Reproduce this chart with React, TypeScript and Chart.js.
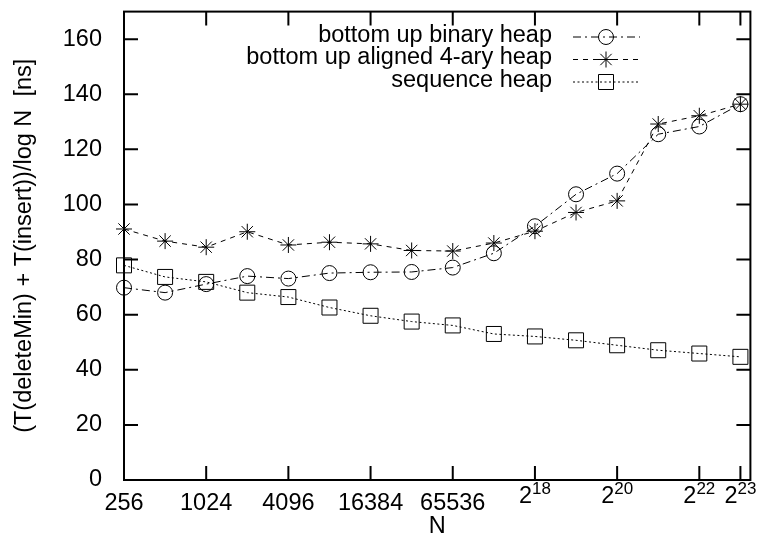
import React, { useEffect, useRef } from 'react';
import { Chart, registerables } from 'chart.js';

Chart.register(...registerables);

// ---- data ----
const nValues = [256, 512, 1024, 2048, 4096, 8192, 16384, 32768, 65536, 131072, 262144, 524288, 1048576, 2097152, 4194304, 8388608];
const binaryHeap = [69.8, 68.0, 71.1, 74.0, 73.1, 75.1, 75.4, 75.5, 77.1, 82.3, 92.1, 103.7, 111.2, 125.5, 128.3, 136.4];
const aligned4aryHeap = [91.1, 86.7, 84.5, 90.1, 85.3, 86.3, 85.7, 83.3, 83.1, 86.0, 90.3, 97.1, 101.3, 129.2, 132.2, 136.4];
const sequenceHeap = [77.9, 73.7, 71.9, 68.0, 66.4, 62.6, 59.6, 57.5, 56.1, 53.0, 52.1, 50.7, 48.9, 47.1, 45.9, 44.7];

const seriesNames = ['bottom up binary heap', 'bottom up aligned 4-ary heap', 'sequence heap'];

const xTickValues = [256, 1024, 4096, 16384, 65536, 262144, 1048576, 4194304, 8388608];
const xTickLabels = ['256', '1024', '4096', '16384', '65536', '2^18', '2^20', '2^22', '2^23'];
const yTickValues = [0, 20, 40, 60, 80, 100, 120, 140, 160];

const X_MIN = 256;
const X_MAX = 9928000;
const Y_MIN = 0;
const Y_MAX = 170;

const FONT_FAMILY = '"Liberation Sans", Arial, Helvetica, sans-serif';
const FONT_SIZE = 23.5;
const SUP_SIZE = 17;

const dashes = [[8, 4, 2, 4], [5, 5], [2, 2.5]];
const pointStyles = ['circle', 'star', 'rect'] as const;
const pointRadii = [7.5, 8, 10.6];

function drawMarker(ctx: CanvasRenderingContext2D, style: string, x: number, y: number) {
  ctx.beginPath();
  if (style === 'circle') {
    ctx.arc(x, y, 7.5, 0, Math.PI * 2);
  } else if (style === 'rect') {
    const s = 7.5;
    ctx.rect(x - s, y - s, 2 * s, 2 * s);
  } else {
    const r = 8;
    const d = r * Math.SQRT1_2;
    ctx.moveTo(x - r, y); ctx.lineTo(x + r, y);
    ctx.moveTo(x, y - r); ctx.lineTo(x, y + r);
    ctx.moveTo(x - d, y - d); ctx.lineTo(x + d, y + d);
    ctx.moveTo(x - d, y + d); ctx.lineTo(x + d, y - d);
  }
  ctx.stroke();
}

const gnuplotPlugin = {
  id: 'gnuplotFrame',
  afterDraw(chart: any) {
    const { ctx, chartArea: a, scales } = chart;
    const x = scales.x;
    const y = scales.y;
    ctx.save();
    ctx.setLineDash([]);
    ctx.strokeStyle = '#000';
    ctx.lineWidth = 2;
    ctx.strokeRect(a.left, a.top, a.right - a.left, a.bottom - a.top);
    const TL = 14;
    ctx.beginPath();
    for (const v of yTickValues) {
      const py = y.getPixelForValue(v);
      ctx.moveTo(a.left, py); ctx.lineTo(a.left + TL, py);
      ctx.moveTo(a.right, py); ctx.lineTo(a.right - TL, py);
    }
    for (const v of xTickValues) {
      const px = x.getPixelForValue(v);
      ctx.moveTo(px, a.bottom); ctx.lineTo(px, a.bottom - TL);
      ctx.moveTo(px, a.top); ctx.lineTo(px, a.top + TL);
    }
    ctx.stroke();

    // x tick labels (with superscripts)
    ctx.fillStyle = '#000';
    ctx.textBaseline = 'middle';
    xTickValues.forEach((v, i) => {
      const px = x.getPixelForValue(v);
      const label = xTickLabels[i];
      if (label.includes('^')) {
        const [base, sup] = label.split('^');
        ctx.font = `${FONT_SIZE}px ${FONT_FAMILY}`;
        const wb = ctx.measureText(base).width;
        ctx.font = `${SUP_SIZE}px ${FONT_FAMILY}`;
        const ws = ctx.measureText(sup).width;
        const start = px - (wb + ws) / 2;
        ctx.textAlign = 'left';
        ctx.font = `${FONT_SIZE}px ${FONT_FAMILY}`;
        ctx.fillText(base, start, a.bottom + 16.5);
        ctx.font = `${SUP_SIZE}px ${FONT_FAMILY}`;
        ctx.fillText(sup, start + wb, a.bottom + 9);
      } else {
        ctx.textAlign = 'center';
        ctx.font = `${FONT_SIZE}px ${FONT_FAMILY}`;
        ctx.fillText(label, px, a.bottom + 23.5);
      }
    });

    // legend
    const rows = [37, 59.5, 82];
    const textRight = 552;
    const lineStart = 573;
    const lineEnd = 640;
    const markerX = 606;
    ctx.font = `${FONT_SIZE}px ${FONT_FAMILY}`;
    ctx.textAlign = 'right';
    ctx.textBaseline = 'middle';
    seriesNames.forEach((name, i) => {
      const ry = rows[i];
      ctx.fillText(name, textRight, ry - 1.5);
      ctx.lineWidth = 1;
      ctx.setLineDash(dashes[i]);
      ctx.beginPath();
      ctx.moveTo(lineStart, ry);
      ctx.lineTo(lineEnd, ry);
      ctx.stroke();
      ctx.setLineDash([]);
      drawMarker(ctx, pointStyles[i], markerX, ry);
    });
    ctx.restore();
  },
};

export default function App() {
  const ref = useRef<HTMLCanvasElement>(null);

  useEffect(() => {
    document.body.style.margin = '0';
    const canvas = ref.current!;
    const seriesValues = [binaryHeap, aligned4aryHeap, sequenceHeap];
    const datasets = seriesValues.map((vals, i) => ({
      label: seriesNames[i],
      data: nValues.map((n, j) => ({ x: n, y: vals[j] })),
      borderColor: '#000',
      borderWidth: 1,
      borderDash: dashes[i],
      pointStyle: pointStyles[i],
      pointRadius: pointRadii[i],
      pointBorderWidth: 1,
      pointBorderColor: '#000',
      pointBackgroundColor: 'rgba(0,0,0,0)',
      backgroundColor: 'rgba(0,0,0,0)',
      fill: false,
      tension: 0,
      clip: false as any,
    }));

    const chart = new Chart(canvas, {
      type: 'line',
      data: { datasets },
      plugins: [gnuplotPlugin],
      options: {
        animation: false,
        responsive: false,
        devicePixelRatio: 1,
        events: [],
        layout: { padding: { left: 0, top: 7, right: 11, bottom: 0 } },
        plugins: {
          legend: { display: false },
          tooltip: { enabled: false },
        },
        scales: {
          x: {
            type: 'logarithmic',
            min: X_MIN,
            max: X_MAX,
            grid: { display: false },
            border: { display: false },
            ticks: { display: false },
            afterBuildTicks: (scale: any) => {
              scale.ticks = xTickValues.map((v) => ({ value: v }));
            },
            afterFit: (scale: any) => {
              scale.height = 61;
              scale.paddingLeft = 0;
              scale.paddingRight = 0;
            },
            title: {
              display: true,
              text: 'N',
              color: '#000',
              font: { family: FONT_FAMILY, size: FONT_SIZE, lineHeight: 1 },
              padding: { top: 0, bottom: 2.75 },
            },
          },
          y: {
            type: 'linear',
            min: Y_MIN,
            max: Y_MAX,
            grid: { display: false },
            border: { display: false },
            ticks: {
              color: '#000',
              padding: 14,
              font: { family: FONT_FAMILY, size: FONT_SIZE },
            },
            afterBuildTicks: (scale: any) => {
              scale.ticks = yTickValues.map((v) => ({ value: v }));
            },
            afterFit: (scale: any) => {
              scale.width = 124;
              scale.paddingTop = 0;
              scale.paddingBottom = 0;
            },
            title: {
              display: true,
              text: '(T(deleteMin) + T(insert))/log N  [ns]',
              color: '#000',
              font: { family: FONT_FAMILY, size: FONT_SIZE, lineHeight: 1 },
              padding: { top: 13, bottom: 0 },
            },
          },
        },
      },
    });
    return () => chart.destroy();
  }, []);

  return (
    <div style={{ width: 762, height: 541 }}>
      <canvas ref={ref} width={762} height={541} style={{ display: 'block' }} />
    </div>
  );
}
